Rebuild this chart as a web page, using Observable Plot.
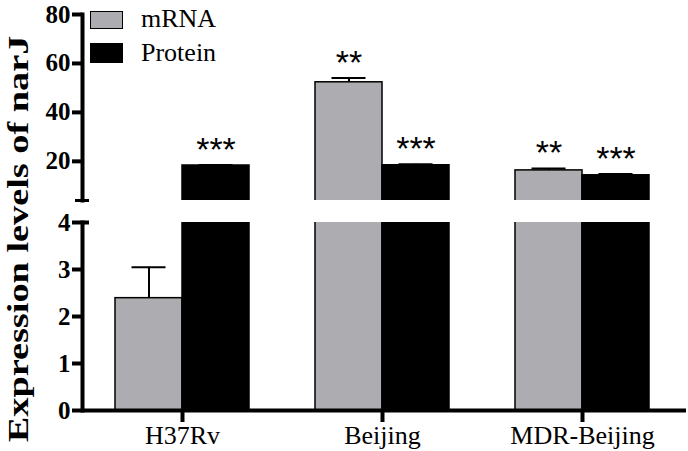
<!DOCTYPE html>
<html>
<head>
<meta charset="utf-8">
<script src="https://cdn.jsdelivr.net/npm/d3@7"></script>
<script src="https://cdn.jsdelivr.net/npm/@observablehq/plot@0.6"></script>
<style>
  body { margin: 0; background: #fff; }
  #chart { position: relative; width: 688px; height: 451px; font-family: "Liberation Serif", "Times New Roman", serif; overflow: hidden; }
  #top, #bottom { position: absolute; left: 0; }
  #top { top: 0; }
  #bottom { top: 205px; }
  #ylabel { position: absolute; left: 18px; top: 239px; transform: translate(-50%, -50%) rotate(-90deg) scaleX(1.32);
            white-space: nowrap; font-weight: bold; font-size: 29px; line-height: 29px; }
  .sw { position: absolute; left: 90px; width: 33px; box-sizing: border-box; border: 1.5px solid #000; }
  .lt { position: absolute; left: 141px; font-size: 26px; line-height: 26px; white-space: nowrap; }
</style>
</head>
<body>
<div id="chart">
  <div id="top"></div>
  <div id="bottom"></div>
  <div id="ylabel">Expression levels of narJ</div>
  <div id="legend"></div>
</div>
<script>
// ---- data ----
const strains = ["H37Rv", "Beijing", "MDR-Beijing"];
const seriesNames = ["mRNA", "Protein"];
const seriesColors = ["#adadb1", "#000000"];
const mrnaValues = [2.39, 52.3, 16.3];
const mrnaErrors = [0.66, 1.8, 0.8];
const proteinValues = [18.3, 18.4, 14.3];
const proteinErrors = [0.2, 0.4, 0.5];
const mrnaStars = ["", "**", "**"];
const proteinStars = ["***", "***", "***"];
const upperTicks = [20, 40, 60, 80];
const lowerTicks = [0, 1, 2, 3, 4];
const upperDomain = [4, 80];
const lowerDomain = [0, 4];
const breakValue = 4;
const yLabel = "Expression levels of narJ";

const serif = "Liberation Serif, Times New Roman, serif";
const sans = "Liberation Sans, Arial, sans-serif";

const mrnaRows = strains.map((s, i) => ({strain: s, value: mrnaValues[i], err: mrnaErrors[i], sig: mrnaStars[i]}));
const proteinRows = strains.map((s, i) => ({strain: s, value: proteinValues[i], err: proteinErrors[i], sig: proteinStars[i]}));

const half = 67;      // half of the group band
const capHalf = 17;   // half width of error caps
const xOpts = {domain: strains, range: [82, 682], paddingInner: 0.33, paddingOuter: 0.165};

function seriesMarks(rows, idx) {
  const left = idx === 0;
  const off = left ? -half / 2 : half / 2;
  const color = seriesColors[idx];
  return [
    Plot.barY(rows, {x: "strain", y: "value", fill: color, stroke: "#000", strokeWidth: 1.5,
      insetLeft: left ? 0 : half, insetRight: left ? half : 0, clip: true}),
    Plot.ruleX(rows, {x: "strain", y1: "value", y2: d => d.value + d.err, dx: off, stroke: "#000", strokeWidth: 2, clip: true}),
    Plot.tickY(rows, {x: "strain", y: d => d.value + d.err, stroke: "#000", strokeWidth: 2,
      insetLeft: left ? half / 2 - capHalf : half + half / 2 - capHalf,
      insetRight: left ? half + half / 2 - capHalf : half / 2 - capHalf, clip: true})
  ];
}

const fmt = d3.format("d");
const noText = () => "";

const topPlot = Plot.plot({
  width: 688, height: 205,
  marginLeft: 82, marginRight: 2, marginTop: 14, marginBottom: 5,
  style: {fontFamily: serif, background: "transparent", overflow: "visible"},
  x: {...xOpts, axis: null},
  y: {domain: upperDomain},
  marks: [
    ...seriesMarks(mrnaRows, 0),
    ...seriesMarks(proteinRows, 1),
    Plot.text(mrnaRows, {x: "strain", y: d => d.value + d.err, text: "sig", dx: -half / 2, dy: -4, lineAnchor: "bottom",
      fontSize: 34, fontFamily: sans, fill: "#000"}),
    Plot.text(proteinRows, {x: "strain", y: d => d.value + d.err, text: "sig", dx: half / 2, dy: -4, lineAnchor: "bottom",
      fontSize: 34, fontFamily: sans, fill: "#000"}),
    Plot.axisY({ticks: upperTicks, tickFormat: fmt, tickSize: 10, tickPadding: 2, fontSize: 25, fontWeight: "bold",
      fontFamily: serif, strokeWidth: 4, label: null}),
    Plot.axisY({ticks: [breakValue], tickFormat: noText, tickSize: 7, strokeWidth: 3, label: null}),
    Plot.axisY({ticks: [breakValue], tickFormat: noText, tickSize: -7, strokeWidth: 3, label: null}),
    Plot.frame({anchor: "left", strokeWidth: 4})
  ]
});
document.getElementById("top").appendChild(topPlot);

const bottomPlot = Plot.plot({
  width: 688, height: 246,
  marginLeft: 82, marginRight: 2, marginTop: 17, marginBottom: 41,
  style: {fontFamily: serif, background: "transparent", overflow: "visible"},
  x: xOpts,
  y: {domain: lowerDomain},
  marks: [
    ...seriesMarks(mrnaRows, 0),
    ...seriesMarks(proteinRows, 1),
    Plot.axisY({ticks: lowerTicks, tickFormat: fmt, tickSize: 10, tickPadding: 2, fontSize: 25, fontWeight: "bold",
      fontFamily: serif, strokeWidth: 4, label: null}),
    Plot.axisY({ticks: [breakValue], tickFormat: noText, tickSize: -7, strokeWidth: 4, label: null}),
    Plot.axisX({tickSize: 12, tickPadding: 3, fontSize: 26, fontFamily: serif, strokeWidth: 4, label: null}),
    Plot.frame({anchor: "left", strokeWidth: 4}),
    Plot.ruleY([0], {strokeWidth: 4})
  ]
});
document.getElementById("bottom").appendChild(bottomPlot);

// legend
const legend = document.getElementById("legend");
const swTops = [11, 43], swHeights = [18, 20], txtTops = [6, 40];
seriesNames.forEach((name, i) => {
  const sw = document.createElement("div");
  sw.className = "sw";
  sw.style.top = swTops[i] + "px";
  sw.style.height = swHeights[i] + "px";
  sw.style.background = seriesColors[i];
  legend.appendChild(sw);
  const t = document.createElement("div");
  t.className = "lt";
  t.style.top = txtTops[i] + "px";
  t.textContent = name;
  legend.appendChild(t);
});
document.getElementById("ylabel").textContent = yLabel;
</script>
</body>
</html>
